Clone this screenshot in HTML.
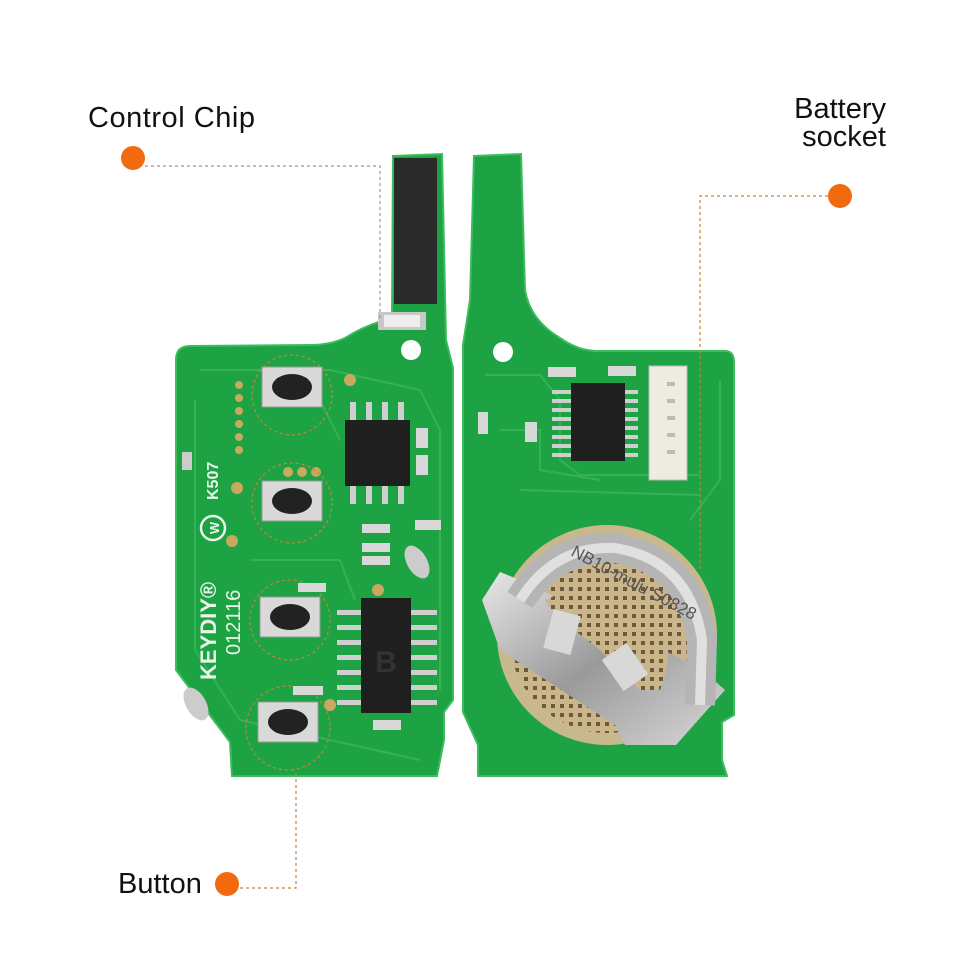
<!DOCTYPE html>
<html><head><meta charset="utf-8"><style>
html,body{margin:0;padding:0;background:#fff;}
svg{display:block}
text{font-family:"Liberation Sans",sans-serif;}
</style></head><body>
<svg width="960" height="960" viewBox="0 0 960 960" xmlns="http://www.w3.org/2000/svg">
<defs>
<linearGradient id="met" x1="0" y1="0" x2="1" y2="1"><stop offset="0" stop-color="#e8e8e8"/><stop offset=".5" stop-color="#9a9a9a"/><stop offset="1" stop-color="#d8d8d8"/></linearGradient>
<pattern id="holes" width="9" height="9" patternUnits="userSpaceOnUse"><rect width="9" height="9" fill="#cbb58a"/><rect x="2" y="2" width="4" height="4" fill="#6b5a3c"/></pattern>
</defs>
<!-- Left board -->
<path d="M393,156 L442,154 L446,340 L453,368 L453,700 L444,712 L444,740 L437,776 L232,776 L230,742 L176,670 L176,360 Q176,346 190,346 L310,345 Q330,345 345,338 Q365,325 392,318 Z" fill="#1ea344" stroke="#3cbc5c" stroke-width="2"/>
<g fill="none" stroke="#3cb55a" stroke-width="2" opacity=".8">
<path d="M200,370 L330,370 L420,390 L440,430 L440,690"/><path d="M195,400 L195,650 L240,720 L420,760"/><path d="M250,560 L340,560 L355,600"/><path d="M320,400 L340,440"/></g>
<rect x="394" y="158" width="43" height="146" fill="#2a2a2a"/>
<rect x="378" y="312" width="48" height="18" fill="#c8c8c8"/><rect x="384" y="315" width="36" height="12" fill="#eee"/>
<circle cx="411" cy="350" r="10" fill="#fff"/>
<g fill="#c9a860"><circle cx="239" cy="385" r="4"/><circle cx="239" cy="398" r="4"/><circle cx="239" cy="411" r="4"/><circle cx="239" cy="424" r="4"/><circle cx="239" cy="437" r="4"/><circle cx="239" cy="450" r="4"/><circle cx="237" cy="488" r="6"/><circle cx="232" cy="541" r="6"/><circle cx="350" cy="380" r="6"/><circle cx="288" cy="472" r="5"/><circle cx="302" cy="472" r="5"/><circle cx="316" cy="472" r="5"/><circle cx="378" cy="590" r="6"/><circle cx="330" cy="705" r="6"/></g>
<rect x="182" y="452" width="10" height="18" fill="#ccc"/>
<g>
<rect x="262" y="367" width="60" height="40" fill="#d9d9d9" stroke="#999"/><ellipse cx="292" cy="387" rx="20" ry="13" fill="#222"/>
<rect x="262" y="481" width="60" height="40" fill="#d9d9d9" stroke="#999"/><ellipse cx="292" cy="501" rx="20" ry="13" fill="#222"/>
<rect x="260" y="597" width="60" height="40" fill="#d9d9d9" stroke="#999"/><ellipse cx="290" cy="617" rx="20" ry="13" fill="#222"/>
<rect x="258" y="702" width="60" height="40" fill="#d9d9d9" stroke="#999"/><ellipse cx="288" cy="722" rx="20" ry="13" fill="#222"/>
</g>
<g fill="none" stroke="#c8843a" stroke-width="1.2" stroke-dasharray="3,3">
<circle cx="292" cy="395" r="40"/><circle cx="292" cy="503" r="40"/><circle cx="290" cy="620" r="40"/><circle cx="288" cy="728" r="42"/></g>
<g fill="#cfcfcf"><rect x="350" y="402" width="6" height="18"/><rect x="366" y="402" width="6" height="18"/><rect x="382" y="402" width="6" height="18"/><rect x="398" y="402" width="6" height="18"/><rect x="350" y="486" width="6" height="18"/><rect x="366" y="486" width="6" height="18"/><rect x="382" y="486" width="6" height="18"/><rect x="398" y="486" width="6" height="18"/></g>
<rect x="345" y="420" width="65" height="66" fill="#1f1f1f"/>
<g fill="#cfcfcf"><rect x="337" y="610" width="100" height="5"/><rect x="337" y="625" width="100" height="5"/><rect x="337" y="640" width="100" height="5"/><rect x="337" y="655" width="100" height="5"/><rect x="337" y="670" width="100" height="5"/><rect x="337" y="685" width="100" height="5"/><rect x="337" y="700" width="100" height="5"/></g>
<rect x="361" y="598" width="50" height="115" fill="#1f1f1f"/>
<text x="386" y="672" font-size="30" font-weight="bold" fill="#333" text-anchor="middle">B</text>
<g fill="#d8d8d8"><rect x="416" y="428" width="12" height="20"/><rect x="416" y="455" width="12" height="20"/><rect x="415" y="520" width="26" height="10"/><rect x="362" y="524" width="28" height="9"/><rect x="362" y="543" width="28" height="9"/><rect x="362" y="556" width="28" height="9"/><rect x="298" y="583" width="28" height="9"/><rect x="293" y="686" width="30" height="9"/><rect x="373" y="720" width="28" height="10"/></g>
<ellipse cx="417" cy="562" rx="10" ry="18" fill="#ccc" transform="rotate(-30 417 562)"/>
<ellipse cx="196" cy="704" rx="10" ry="18" fill="#ccc" transform="rotate(-30 196 704)"/>
<g fill="#e8f5e8" font-weight="bold">
<text transform="translate(218,500) rotate(-90)" font-size="16">K507</text>
<text transform="translate(216,680) rotate(-90)" font-size="22">KEYDIY®</text>
<text transform="translate(240,655) rotate(-90)" font-size="20" font-weight="normal">012116</text>
</g>
<circle cx="213" cy="528" r="12" fill="none" stroke="#e8f5e8" stroke-width="2.5"/>
<text transform="translate(219,528) rotate(-90)" font-size="13" font-weight="bold" fill="#e8f5e8" text-anchor="middle">W</text>
<!-- Right board -->
<path d="M474,156 L521,154 L525,290 Q530,320 560,338 Q580,352 600,351 L725,351 Q734,351 734,362 L734,715 L722,722 L722,760 L727,776 L478,776 L478,745 L463,712 L463,345 L470,300 Z" fill="#1ea344" stroke="#3cbc5c" stroke-width="2"/>
<g fill="none" stroke="#3cb55a" stroke-width="2" opacity=".8"><path d="M485,375 L540,375 L560,400 L560,460 L580,475 L700,475"/><path d="M500,430 L540,430 L540,470 L600,480"/><path d="M720,380 L720,480 L690,520"/><path d="M520,490 L700,495"/></g>
<circle cx="503" cy="352" r="10" fill="#fff"/>
<rect x="649" y="366" width="38" height="114" fill="#eeebe0" stroke="#bbb"/>
<g fill="#bbb"><rect x="667" y="382" width="8" height="4"/><rect x="667" y="399" width="8" height="4"/><rect x="667" y="416" width="8" height="4"/><rect x="667" y="433" width="8" height="4"/><rect x="667" y="450" width="8" height="4"/></g>
<g fill="#cfcfcf"><rect x="552" y="390" width="86" height="4"/><rect x="552" y="399" width="86" height="4"/><rect x="552" y="408" width="86" height="4"/><rect x="552" y="417" width="86" height="4"/><rect x="552" y="426" width="86" height="4"/><rect x="552" y="435" width="86" height="4"/><rect x="552" y="444" width="86" height="4"/><rect x="552" y="453" width="86" height="4"/></g>
<rect x="571" y="383" width="54" height="78" fill="#1f1f1f"/>
<g fill="#d8d8d8"><rect x="548" y="367" width="28" height="10"/><rect x="608" y="366" width="28" height="10"/><rect x="478" y="412" width="10" height="22"/><rect x="525" y="422" width="12" height="20"/></g>
<!-- battery -->
<circle cx="607" cy="635" r="110" fill="#c8b88e"/>
<circle cx="607" cy="635" r="98" fill="url(#holes)"/>
<!-- base plate -->
<path d="M482,600 L500,572 L520,580 L700,668 L725,690 L676,745 L625,745 L615,725 L500,650 Z" fill="url(#met)"/>
<!-- arch band -->
<path d="M520,600 Q555,545 615,548 Q690,560 702,640 L700,705" fill="none" stroke="#b5b5b5" stroke-width="30"/>
<path d="M520,600 Q555,545 615,548 Q690,560 702,640 L700,705" fill="none" stroke="#e0e0e0" stroke-width="10"/>
<path d="M545,600 Q600,575 650,600 Q680,640 660,690 L640,690 L600,650 L555,615 Z" fill="url(#holes)"/>
<rect x="548" y="612" width="28" height="40" fill="#d8d8d8" transform="rotate(15 562 632)"/>
<rect x="610" y="648" width="30" height="38" fill="#d8d8d8" transform="rotate(-35 625 667)"/>
<rect x="470" y="530" width="10" height="1" fill="none"/>
<text transform="translate(570,555) rotate(28)" font-size="17" fill="#555">NB10-mulu S0828</text>
<!-- labels -->
<text x="88" y="127" font-size="29" fill="#111" textLength="167">Control Chip</text>
<text x="886" y="118" font-size="29" fill="#111" text-anchor="end">Battery</text>
<text x="886" y="146" font-size="29" fill="#111" text-anchor="end">socket</text>
<text x="118" y="893" font-size="29" fill="#111">Button</text>
<g fill="none" stroke-width="1.2" stroke-dasharray="3,3">
<path d="M145,166 L380,166 L380,318" stroke="#999"/>
<path d="M828,196 L700,196 L700,570" stroke="#c8843a"/>
<path d="M240,888 L296,888 L296,770" stroke="#c8843a"/>
</g>
<circle cx="133" cy="158" r="12" fill="#f26a10"/>
<circle cx="840" cy="196" r="12" fill="#f26a10"/>
<circle cx="227" cy="884" r="12" fill="#f26a10"/>
</svg>
</body></html>
